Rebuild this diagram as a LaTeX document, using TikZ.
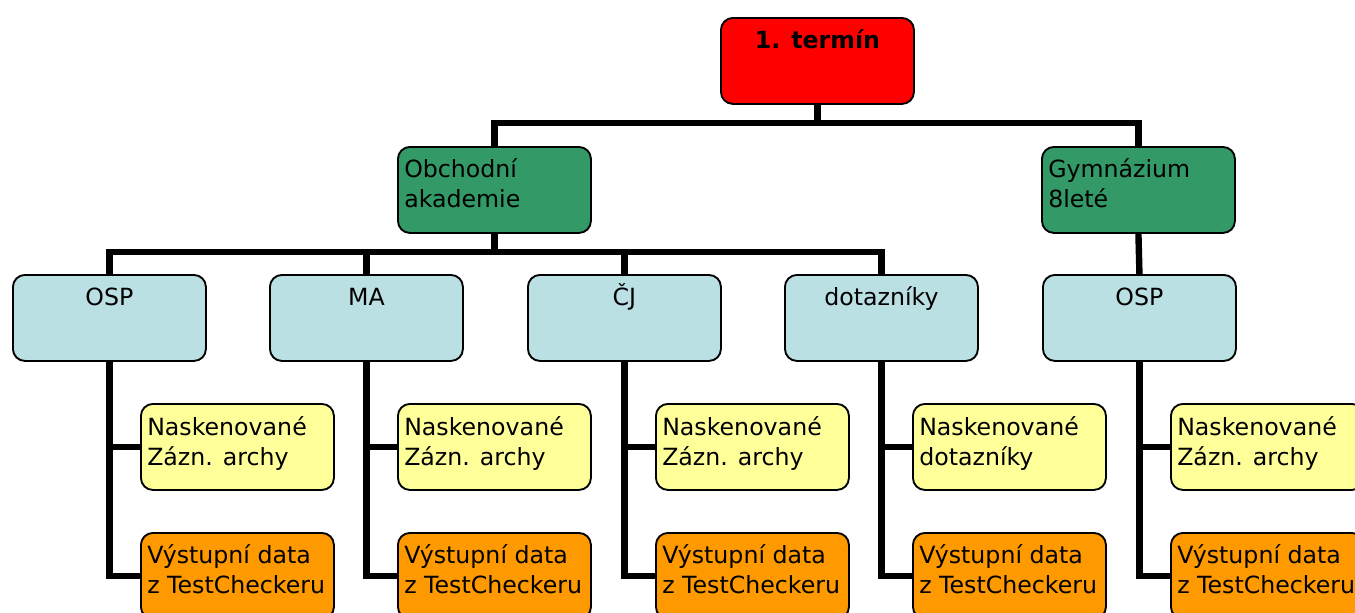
\documentclass[tikz,border=0pt]{standalone}
\usepackage{fontspec}
\setmainfont{DejaVu Sans}
\usetikzlibrary{calc}
\newcommand{\twoline}[2]{\vtop{\hbox{#1}\hbox{#2}}}
\definecolor{cred}{HTML}{FF0000}
\definecolor{cgreen}{HTML}{339966}
\definecolor{cblue}{HTML}{BBE0E3}
\definecolor{cyellow}{HTML}{FFFF99}
\definecolor{corange}{HTML}{FF9900}
\begin{document}
\begin{tikzpicture}[x=0.75pt,y=-0.75pt,
  box/.style={draw=black, line width=1.4pt, rounded corners=9pt, minimum width=144.75pt, minimum height=64.5pt, inner sep=0pt, anchor=north west},
  conn/.style={line width=4.8pt, line join=miter},
  txt/.style={inner sep=0pt, font=\fontsize{17.75}{22.5}\selectfont},
  txtc/.style={txt, anchor=base},
  txtl/.style={txt, anchor=base west},
]
\clip (0,0) rectangle (1355,612);
\fill[white] (0,0) rectangle (1355,612);

% boxes
\node[box, fill=cred] (top) at (720,17) {};
\node[box, fill=cgreen] (oa) at (397,146) {};
\node[box, fill=cgreen] (gym) at (1041,146) {};

\node[box, fill=cblue] (osp1) at (12,274) {};
\node[box, fill=cblue] (ma) at (269,274) {};
\node[box, fill=cblue] (cj) at (527,274) {};
\node[box, fill=cblue] (dot) at (784,274) {};
\node[box, fill=cblue] (osp2) at (1042,274) {};

\node[box, fill=cyellow] (y1) at (140,403) {};
\node[box, fill=cyellow] (y2) at (397,403) {};
\node[box, fill=cyellow] (y3) at (655,403) {};
\node[box, fill=cyellow] (y4) at (912,403) {};
\node[box, fill=cyellow] (y5) at (1170,403) {};

\node[box, fill=corange] (o1) at (140,532) {};
\node[box, fill=corange] (o2) at (397,532) {};
\node[box, fill=corange] (o3) at (655,532) {};
\node[box, fill=corange] (o4) at (912,532) {};
\node[box, fill=corange] (o5) at (1170,532) {};

% bus coordinates
\coordinate (bus1) at (0,123);
\coordinate (bus2) at (0,252);

% connectors
\draw[conn] (top.south) -- (top.south |- bus1);
\draw[conn] (oa.north) -- (oa.north |- bus1) -- (gym.north |- bus1) -- (gym.north);
\draw[conn] (oa.south) -- (oa.south |- bus2);
\draw[conn] (osp1.north) -- (osp1.north |- bus2) -- (dot.north |- bus2) -- (dot.north);
\draw[conn] (ma.north) -- (ma.north |- bus2);
\draw[conn] (cj.north) -- (cj.north |- bus2);
\draw[conn] (gym.south) -- (osp2.north);

\draw[conn] (osp1.south) |- (y1.west);
\draw[conn] (osp1.south) |- (o1.west);
\draw[conn] (ma.south) |- (y2.west);
\draw[conn] (ma.south) |- (o2.west);
\draw[conn] (cj.south) |- (y3.west);
\draw[conn] (cj.south) |- (o3.west);
\draw[conn] (dot.south) |- (y4.west);
\draw[conn] (dot.south) |- (o4.west);
\draw[conn] (osp2.south) |- (y5.west);
\draw[conn] (osp2.south) |- (o5.west);

% texts
\node[txtc, font=\fontsize{17.75}{22.5}\selectfont\bfseries] (topt) at ($(top.north)+(0,31)$) {1. termín};
\node[txtl] (oat) at ($(oa.north west)+(7,31)$) {\twoline{Obchodní}{akademie}};
\node[txtl] (gymt) at ($(gym.north west)+(7,31)$) {\twoline{Gymnázium}{8leté}};

\node[txtc] (osp1t) at ($(osp1.north)+(0,31)$) {OSP};
\node[txtc] (mat) at ($(ma.north)+(0,31)$) {MA};
\node[txtc] (cjt) at ($(cj.north)+(0,31)$) {ČJ};
\node[txtc] (dott) at ($(dot.north)+(0,31)$) {dotazníky};
\node[txtc] (osp2t) at ($(osp2.north)+(0,31)$) {OSP};

\node[txtl] (y1t) at ($(y1.north west)+(7,32)$) {\twoline{Naskenované}{Zázn. archy}};
\node[txtl] (y2t) at ($(y2.north west)+(7,32)$) {\twoline{Naskenované}{Zázn. archy}};
\node[txtl] (y3t) at ($(y3.north west)+(7,32)$) {\twoline{Naskenované}{Zázn. archy}};
\node[txtl] (y4t) at ($(y4.north west)+(7,32)$) {\twoline{Naskenované}{dotazníky}};
\node[txtl] (y5t) at ($(y5.north west)+(7,32)$) {\twoline{Naskenované}{Zázn. archy}};

\node[txtl] (o1t) at ($(o1.north west)+(7,31)$) {\twoline{Výstupní data}{z TestCheckeru}};
\node[txtl] (o2t) at ($(o2.north west)+(7,31)$) {\twoline{Výstupní data}{z TestCheckeru}};
\node[txtl] (o3t) at ($(o3.north west)+(7,31)$) {\twoline{Výstupní data}{z TestCheckeru}};
\node[txtl] (o4t) at ($(o4.north west)+(7,31)$) {\twoline{Výstupní data}{z TestCheckeru}};
\node[txtl] (o5t) at ($(o5.north west)+(7,31)$) {\twoline{Výstupní data}{z TestCheckeru}};
\end{tikzpicture}
\end{document}
